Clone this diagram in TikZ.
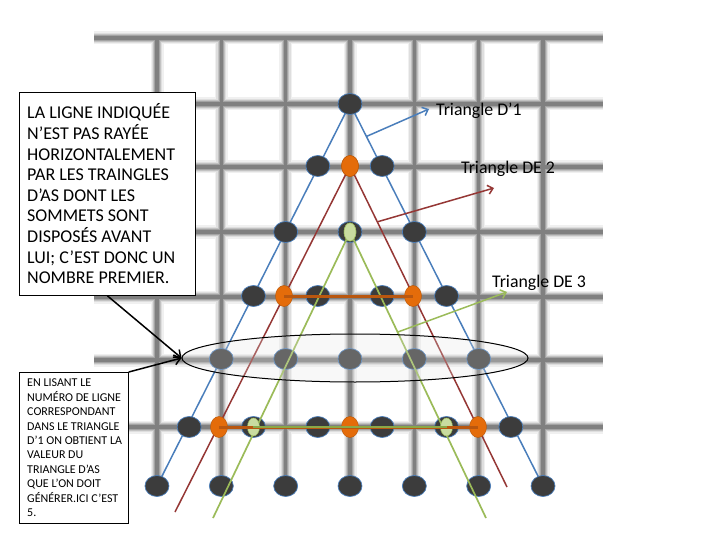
\documentclass[tikz,border=0pt]{standalone}
\usepackage{fontspec}
\setmainfont{Carlito}
\usetikzlibrary{shapes.geometric,arrows.meta}
\definecolor{tblue}{HTML}{4A7EBB}
\definecolor{tred}{HTML}{953735}
\definecolor{tgreen}{HTML}{9BBB59}
\definecolor{tgreenlt}{HTML}{C9DCA0}
\definecolor{tgreendk}{HTML}{8AA848}
\definecolor{torange}{HTML}{E46C0A}
\definecolor{tbrown}{HTML}{B9570F}
\definecolor{dotgray}{HTML}{3C3C3C}
\begin{document}
\begin{tikzpicture}[x=1pt,y=-1pt,
  dotnode/.style={ellipse,minimum width=24pt,minimum height=21pt,inner sep=0pt,fill=dotgray,draw=tblue,line width=0.7pt},
  orangenode/.style={ellipse,minimum width=17pt,minimum height=21pt,inner sep=0pt,fill=torange,draw=torange!80!black,line width=0.4pt},
  greennode/.style={ellipse,minimum width=12pt,minimum height=18pt,inner sep=0pt,fill=tgreenlt,draw=tgreen,line width=0.5pt},
  blueline/.style={tblue,line width=1.5pt},
  redline/.style={tred,line width=1.5pt},
  greenline/.style={tgreen,line width=1.7pt},
  labeltext/.style={font=\fontsize{17.8}{20}\selectfont,inner sep=0pt,anchor=west},
  labarrow/.style={line width=1.5pt,-{Straight Barb[length=5pt,width=9pt]}},
  blackarrow/.style={black,line width=1.5pt,-{Straight Barb[length=6pt,width=10pt]}},
  boxframe/.style={draw=black,line width=0.8pt,fill=white,inner sep=0pt,anchor=north west}
]
\useasboundingbox (0,0) rectangle (720,540);
\fill[white] (0,0) rectangle (720,540);
% ---- blurred grid ----
\foreach \w/\c in {13/6,10/13,7.5/24,5.5/36,3.5/50}{
  \foreach \y in {38,104,167,232,297,360,427}
    \draw[line width=\w pt,black!\c] (94,\y) -- (603,\y);
  \foreach \x in {157,221.3,285.7,350,414.3,478.7,543}
    \draw[line width=\w pt,black!\c] (\x,38) -- (\x,488);
}
% ---- blue triangle dots (positions) ----
\foreach \r/\yy in {0/104,1/166,2/232,3/296,4/359,5/427,6/486}{
  \foreach \i in {0,...,\r}{
    \pgfmathsetmacro{\xx}{350+32.17*(2*\i-\r)}
    \coordinate (p\r-\i) at (\xx,\yy);
  }
}
% blue lines
\draw[blueline] (p0-0) -- (p6-0);
\draw[blueline] (p0-0) -- (p6-6);
\path (p0-0) -- (p6-6) coordinate[pos=0.085] (bstart);
% dark dots
\foreach \r in {0,...,6}{
  \foreach \i in {0,...,\r}{
    \node[dotnode] (d\r-\i) at (p\r-\i) {};
  }
}
% red triangle
\node[orangenode] (o1) at (350,166) {};
\coordinate (rl) at (175,512);
\coordinate (rr) at (507,487);
\draw[redline] (o1.center) -- (rl);
\draw[redline] (o1.center) -- (rr);
\path (o1.center) -- (rr) coordinate[pos=0.174] (rstart);
% green triangle
\node[greennode] (g1) at (350,232) {};
\coordinate (gl) at (213,518);
\coordinate (gr) at (486,518);
\draw[greenline] (g1.center) -- (gl);
\draw[greenline] (g1.center) -- (gr);
\path (g1.center) -- (gr) coordinate[pos=0.35] (gstart);
% orange / green markers
\node[orangenode] (o1) at (350,166) {};
\node[greennode] (g1) at (350,232) {};
\node[orangenode] (o2) at (284,296) {};
\node[orangenode] (o3) at (413,296) {};
\node[orangenode] (o4) at (219,427) {};
\node[orangenode] (o5) at (350,427) {};
\node[orangenode] (o6) at (478,427) {};
\node[greennode] (g2) at (p5-1) {};
\node[greennode] (g3) at (p5-4) {};
% horizontal connectors
\draw[tbrown,line width=3pt] (o2.center) -- (o3.center);
\draw[tbrown,line width=3pt] (o4.center) -- (o6.center);
\draw[tgreendk,line width=2pt] (g2.center) -- (g3.center);
% highlight ellipse
\node[ellipse,draw=black,line width=1pt,fill=gray!20,fill opacity=0.25,minimum width=346pt,minimum height=48pt,inner sep=0pt] (hl) at (355,358) {};
% labels
\node[labeltext] (lab1) at (436,111) {Triangle D’1};
\node[labeltext] (lab2) at (461,169) {Triangle DE 2};
\node[labeltext] (lab3) at (492,283) {Triangle DE 3};
\coordinate (t1) at (429,109);
\coordinate (t2) at (494,188);
\coordinate (t3) at (507,292);
\draw[labarrow,tblue] (bstart) -- (t1);
\draw[labarrow,tred] (rstart) -- (t2);
\draw[labarrow,tgreen] (gstart) -- (t3);
% text boxes
\node[boxframe,minimum width=176pt,minimum height=203pt] (box1) at (19,92) {};
\node[anchor=west,align=left,inner sep=0pt,font=\fontsize{18}{20.6}\selectfont] (txt1) at ([xshift=8pt]box1.west) {LA LIGNE INDIQUÉE\\N’EST PAS RAYÉE\\HORIZONTALEMENT\\PAR LES TRAINGLES\\D’AS DONT LES\\SOMMETS SONT\\DISPOSÉS AVANT\\LUI; C’EST DONC UN\\NOMBRE PREMIER.};
\node[boxframe,minimum width=109pt,minimum height=151pt] (box2) at (19,372) {};
\node[anchor=west,align=left,inner sep=0pt,font=\fontsize{12}{14.4}\selectfont] (txt2) at ([xshift=8pt]box2.west) {EN LISANT LE\\NUMÉRO DE LIGNE\\CORRESPONDANT\\DANS LE TRIANGLE\\D’1 ON OBTIENT LA\\VALEUR DU\\TRIANGLE D’AS\\QUE L’ON DOIT\\GÉNÉRER.ICI C’EST\\5.};
% black arrows
\draw[blackarrow] (box1.south) -- (hl.west);
\draw[blackarrow] (box2.north east) -- (hl.west);
\end{tikzpicture}
\end{document}
